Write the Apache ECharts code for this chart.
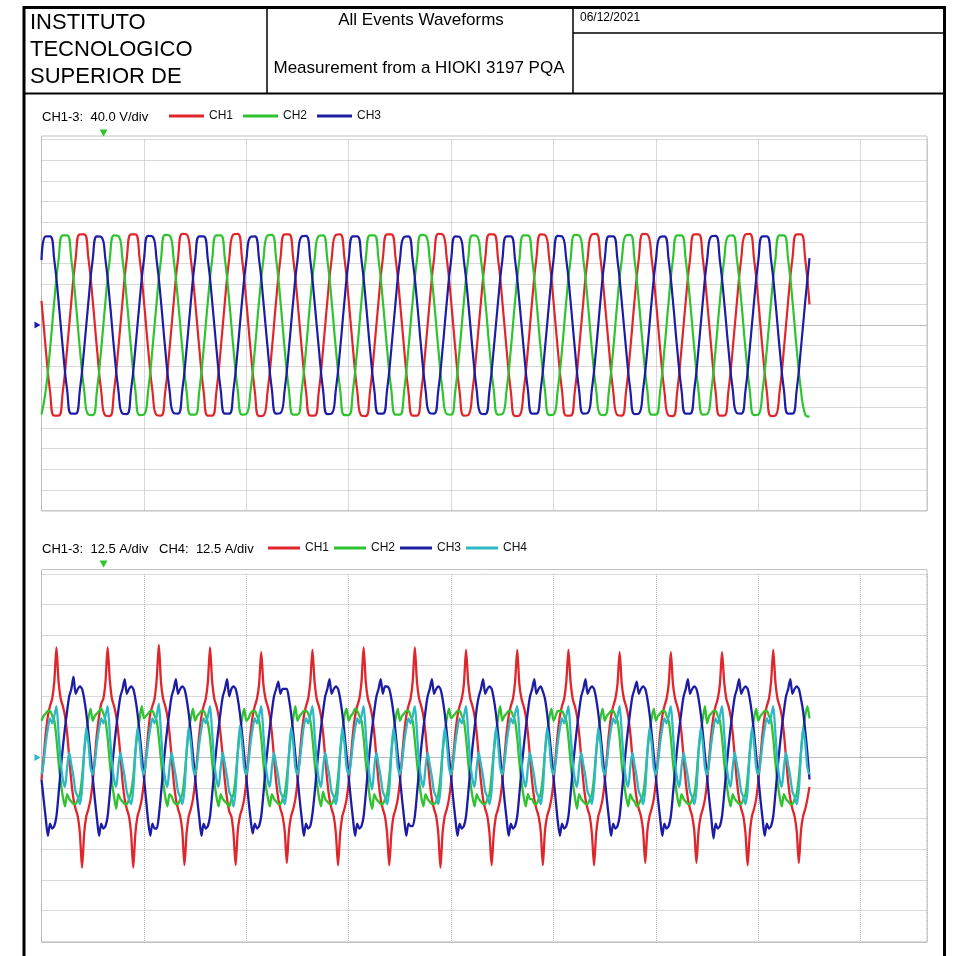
<!DOCTYPE html>
<html>
<head>
<meta charset="utf-8">
<title>All Events Waveforms</title>
<script src="https://cdn.jsdelivr.net/npm/echarts/dist/echarts.min.js"></script>
<style>
  html, body { margin: 0; padding: 0; background: #ffffff; }
  #chart { width: 953px; height: 956px; }
</style>
</head>
<body>
<div id="chart"></div>
<script>
// ---- Header texts ----
const institutionLines = ['INSTITUTO', 'TECNOLOGICO', 'SUPERIOR DE'];
const reportTitle = 'All Events Waveforms';
const reportSubtitle = 'Measurement from a HIOKI 3197 PQA';
const reportDate = '06/12/2021';

// ---- Scales ----
const voltageRangeLabel = 'CH1-3:  40.0 V/div';
const currentRangeLabel = 'CH1-3:  12.5 A/div   CH4:  12.5 A/div';
const voltageChannels = ['CH1', 'CH2', 'CH3'];
const currentChannels = ['CH1', 'CH2', 'CH3', 'CH4'];
const VOLT_PER_DIV = 40;      // V
const VOLT_DIVS = 9;          // divisions each side of zero
const AMP_PER_DIV = 12.5;     // A
const AMP_DIVS = 6;
const TIME_PER_DIV = 100 / 3; // ms (two 60 Hz cycles)
const TIME_SPAN = 288.25;     // ms shown across the screen
const TRIGGER_MS = 20.2;      // trigger marker position

// Sampling intervals of the recorded traces (250 ms record)
const V_STEP_MS = 250 / 180;  // 12 samples per cycle
const I_STEP_MS = 250 / 360;  // 24 samples per cycle

// ---- Voltage traces (V) ----
const vCh1 = [
  47, -47, -129, -176, -176, -129, -47, 47, 129, 176, 176, 129,
  48, -46, -129, -176, -177, -129, -47, 47, 130, 176, 176, 129,
  47, -47, -128, -175, -176, -130, -48, 46, 129, 177, 176, 128,
  47, -47, -129, -176, -176, -129, -47, 47, 129, 176, 177, 129,
  46, -48, -129, -177, -176, -128, -47, 48, 129, 176, 176, 129,
  47, -47, -129, -176, -176, -129, -47, 47, 128, 175, 176, 130,
  48, -46, -128, -176, -177, -129, -46, 47, 129, 176, 176, 129,
  47, -47, -129, -176, -176, -130, -47, 47, 129, 177, 176, 128,
  47, -48, -130, -176, -175, -129, -47, 46, 129, 176, 176, 129,
  47, -47, -129, -177, -176, -129, -48, 47, 130, 176, 175, 129,
  46, -47, -128, -176, -176, -129, -47, 47, 129, 176, 177, 130,
  47, -46, -129, -175, -176, -130, -47, 48, 129, 177, 176, 129,
  48, -47, -129, -176, -177, -129, -46, 47, 128, 176, 176, 129,
  47, -47, -130, -176, -176, -128, -47, 46, 129, 176, 177, 129,
  47, -48, -129, -177, -176, -129, -47, 47, 129, 176, 176, 128,
  40
];
const vCh2 = [
  -174, -127, -47, 47, 127, 174, 174, 127, 47, -47, -127, -174,
  -175, -127, -46, 47, 128, 174, 173, 127, 48, -47, -127, -175,
  -174, -128, -47, 46, 127, 175, 174, 126, 47, -46, -128, -174,
  -174, -127, -47, 47, 127, 174, 174, 127, 47, -47, -127, -174,
  -173, -127, -48, 47, 126, 174, 175, 128, 47, -48, -127, -174,
  -174, -126, -47, 48, 127, 173, 174, 127, 46, -47, -126, -175,
  -175, -127, -47, 47, 128, 174, 174, 127, 47, -47, -127, -174,
  -174, -128, -46, 47, 127, 175, 174, 126, 47, -46, -128, -173,
  -174, -127, -47, 46, 127, 174, 173, 127, 48, -47, -127, -174,
  -173, -127, -47, 47, 126, 174, 174, 128, 47, -48, -127, -175,
  -174, -126, -48, 47, 127, 175, 174, 127, 47, -47, -126, -174,
  -175, -127, -47, 48, 127, 174, 175, 127, 46, -47, -127, -174,
  -174, -128, -47, 47, 128, 174, 174, 126, 47, -46, -128, -174,
  -173, -127, -46, 47, 127, 173, 174, 127, 47, -47, -127, -175,
  -174, -127, -47, 46, 127, 174, 174, 127, 48, -47, -127, -174,
  -178
];
const vCh3 = [
  126, 172, 172, 126, 46, -46, -126, -172, -172, -126, -46, 46,
  127, 172, 171, 126, 47, -46, -125, -172, -173, -126, -46, 46,
  126, 173, 172, 125, 46, -47, -126, -171, -172, -127, -47, 45,
  126, 172, 172, 126, 46, -46, -126, -172, -172, -126, -46, 46,
  125, 171, 172, 127, 46, -45, -126, -172, -171, -126, -45, 47,
  126, 172, 173, 126, 45, -46, -127, -173, -172, -125, -46, 46,
  127, 172, 172, 126, 46, -47, -126, -172, -172, -126, -46, 46,
  126, 171, 172, 126, 47, -46, -125, -171, -172, -127, -47, 46,
  126, 172, 171, 125, 46, -46, -126, -172, -173, -126, -46, 45,
  125, 172, 172, 126, 46, -45, -126, -172, -172, -126, -46, 46,
  126, 173, 172, 127, 46, -46, -127, -172, -171, -125, -46, 47,
  127, 172, 172, 126, 45, -46, -126, -173, -172, -126, -47, 46,
  126, 171, 172, 126, 46, -47, -126, -172, -172, -126, -46, 46,
  126, 172, 173, 125, 46, -46, -125, -171, -172, -127, -46, 45,
  125, 172, 172, 126, 47, -46, -126, -172, -172, -126, -45, 46,
  130
];

// ---- Current traces (A) ----
const iCh1 = [
  -9, 0, 10, 17, 21, 24, 31, 45, 31, 24, 21, 17, 10, 0, -10, -17, -21, -24, -31, -45, -31, -24, -21, -17,
  -10, 0, 10, 17, 22, 24, 31, 45, 32, 24, 21, 17, 10, 1, -10, -17, -21, -24, -31, -45, -31, -24, -21, -17,
  -10, 0, 10, 18, 21, 24, 32, 46, 31, 24, 21, 17, 10, 0, -10, -17, -21, -24, -30, -44, -31, -24, -21, -17,
  -10, 0, 10, 17, 21, 24, 31, 45, 31, 24, 21, 17, 9, 0, -10, -17, -22, -24, -31, -44, -30, -24, -21, -17,
  -10, 0, 10, 17, 21, 24, 30, 43, 30, 24, 21, 17, 10, 0, -10, -17, -21, -24, -30, -43, -30, -24, -21, -17,
  -10, 0, 10, 17, 21, 24, 31, 44, 31, 24, 21, 17, 10, 0, -10, -17, -21, -24, -31, -44, -31, -24, -21, -17,
  -10, 0, 10, 17, 21, 24, 31, 45, 31, 24, 21, 17, 10, 0, -10, -17, -21, -24, -31, -44, -31, -24, -21, -17,
  -10, 0, 10, 17, 21, 24, 31, 45, 31, 24, 21, 17, 10, 0, -10, -17, -21, -24, -31, -45, -31, -24, -21, -17,
  -10, 0, 10, 17, 21, 24, 30, 44, 31, 24, 21, 17, 10, 0, -10, -17, -21, -24, -31, -44, -31, -24, -21, -17,
  -10, 0, 10, 17, 21, 24, 31, 44, 30, 24, 21, 17, 10, 0, -10, -17, -21, -24, -30, -44, -30, -24, -21, -17,
  -10, 0, 10, 17, 21, 24, 31, 44, 31, 24, 21, 17, 10, 0, -10, -17, -21, -24, -31, -44, -31, -24, -21, -17,
  -10, 0, 10, 17, 21, 24, 30, 43, 30, 24, 21, 17, 10, 0, -10, -17, -21, -24, -30, -43, -30, -24, -21, -17,
  -10, 0, 10, 17, 21, 24, 30, 43, 30, 24, 21, 17, 10, 0, -10, -17, -21, -24, -30, -43, -30, -24, -21, -17,
  -10, 0, 10, 17, 21, 24, 30, 43, 31, 24, 21, 17, 10, 0, -10, -17, -21, -24, -31, -44, -31, -24, -21, -17,
  -10, 0, 10, 17, 21, 24, 31, 44, 31, 24, 21, 17, 10, 0, -10, -17, -21, -24, -30, -43, -30, -24, -21, -17,
  -12
];
const iCh2 = [
  15, 17, 18, 19, 19, 17, 15, 8, -2, -10, -16, -20, -15, -17, -18, -19, -19, -17, -15, -8, 2, 10, 16, 20,
  15, 17, 18, 19, 20, 18, 15, 8, -2, -10, -16, -21, -15, -17, -18, -19, -19, -17, -14, -8, 2, 10, 16, 21,
  16, 17, 18, 19, 19, 17, 15, 8, -1, -10, -16, -20, -15, -16, -18, -19, -19, -17, -15, -8, 2, 11, 16, 20,
  15, 17, 18, 19, 19, 17, 14, 8, -2, -10, -16, -20, -15, -17, -18, -19, -20, -17, -15, -8, 2, 10, 16, 20,
  15, 16, 18, 19, 19, 17, 15, 8, -2, -11, -16, -20, -15, -17, -18, -19, -19, -17, -15, -8, 1, 10, 16, 21,
  15, 17, 18, 19, 19, 18, 15, 8, -2, -10, -16, -20, -14, -17, -18, -19, -19, -17, -15, -8, 2, 10, 17, 20,
  15, 17, 18, 20, 19, 17, 15, 8, -2, -10, -17, -21, -15, -17, -18, -19, -19, -17, -15, -8, 2, 10, 16, 20,
  15, 17, 18, 19, 19, 17, 15, 7, -2, -10, -16, -20, -15, -17, -18, -19, -19, -18, -15, -8, 2, 10, 16, 20,
  16, 17, 18, 19, 19, 17, 15, 8, -2, -10, -16, -20, -15, -17, -18, -19, -19, -17, -15, -7, 2, 10, 16, 21,
  15, 17, 18, 19, 19, 17, 15, 8, -2, -10, -16, -20, -15, -17, -17, -19, -19, -17, -15, -8, 2, 10, 16, 20,
  15, 17, 19, 19, 19, 17, 15, 8, -2, -10, -16, -21, -15, -17, -18, -19, -19, -17, -15, -8, 2, 10, 16, 20,
  15, 17, 18, 19, 19, 17, 15, 8, -3, -10, -16, -20, -15, -17, -18, -20, -19, -17, -15, -8, 2, 10, 16, 20,
  15, 17, 18, 19, 19, 17, 15, 8, -2, -10, -16, -20, -15, -17, -18, -19, -19, -17, -15, -8, 3, 10, 16, 21,
  14, 17, 18, 19, 19, 17, 15, 8, -2, -10, -16, -20, -15, -17, -18, -19, -19, -17, -15, -8, 2, 10, 16, 20,
  15, 17, 18, 19, 19, 17, 15, 8, -2, -10, -16, -20, -15, -17, -18, -19, -19, -17, -15, -8, 2, 11, 17, 21,
  16
];
const iCh3 = [
  -9, -17, -25, -32, -27, -29, -28, -24, -15, -5, 4, 12, 19, 25, 28, 33, 26, 28, 29, 28, 24, 18, 10, 1,
  -8, -17, -25, -32, -27, -29, -28, -24, -15, -5, 4, 12, 19, 25, 28, 32, 26, 28, 29, 28, 24, 18, 10, 1,
  -8, -17, -26, -32, -27, -29, -29, -24, -15, -5, 4, 12, 19, 25, 28, 32, 26, 28, 29, 28, 24, 18, 10, 1,
  -8, -17, -25, -32, -27, -29, -28, -24, -15, -5, 4, 12, 19, 25, 28, 32, 25, 28, 29, 28, 24, 18, 10, 1,
  -8, -17, -25, -31, -27, -29, -28, -24, -15, -5, 4, 12, 19, 25, 28, 31, 26, 28, 28, 28, 24, 18, 10, 1,
  -8, -17, -25, -32, -27, -29, -28, -23, -15, -5, 4, 12, 19, 25, 28, 32, 26, 28, 29, 28, 24, 18, 10, 1,
  -8, -17, -25, -32, -27, -29, -28, -24, -15, -5, 4, 12, 19, 25, 28, 32, 26, 29, 29, 28, 24, 18, 10, 1,
  -8, -17, -25, -32, -27, -28, -28, -24, -15, -5, 4, 12, 19, 25, 28, 32, 26, 28, 29, 28, 24, 18, 10, 1,
  -8, -17, -25, -32, -27, -29, -28, -24, -15, -5, 4, 12, 20, 25, 28, 32, 26, 28, 29, 28, 24, 18, 10, 1,
  -8, -17, -25, -32, -27, -29, -28, -24, -15, -5, 4, 12, 19, 25, 28, 32, 26, 28, 29, 27, 24, 18, 10, 1,
  -8, -17, -26, -32, -27, -29, -28, -24, -15, -5, 4, 12, 19, 25, 28, 32, 26, 28, 29, 28, 24, 18, 10, 1,
  -8, -17, -25, -32, -27, -29, -28, -24, -15, -5, 4, 12, 19, 25, 28, 31, 26, 28, 29, 28, 24, 18, 10, 1,
  -8, -17, -25, -32, -27, -29, -28, -24, -15, -5, 4, 12, 19, 25, 28, 32, 26, 28, 29, 28, 24, 18, 10, 1,
  -8, -17, -25, -33, -27, -29, -28, -24, -15, -5, 4, 12, 19, 25, 28, 32, 26, 28, 29, 28, 24, 18, 10, 1,
  -8, -17, -25, -32, -27, -29, -28, -24, -15, -5, 4, 12, 19, 25, 28, 32, 26, 28, 29, 28, 24, 19, 11, 2,
  -9
];
const iCh4 = [
  -7, -2, 6, 12, 16, 14, 17, 21, 10, -2, -9, -12, -4, 2, -3, -8, -14, -16, -19, -13, 2, 12, 6, -4,
  -7, -2, 6, 12, 16, 14, 17, 21, 10, -2, -9, -12, -4, 2, -3, -8, -14, -17, -19, -13, 2, 12, 6, -4,
  -7, -1, 6, 12, 16, 14, 17, 22, 10, -2, -9, -12, -4, 2, -3, -8, -14, -16, -19, -13, 2, 12, 6, -4,
  -7, -2, 6, 12, 16, 14, 17, 21, 10, -2, -9, -12, -4, 2, -3, -8, -14, -16, -20, -13, 2, 13, 6, -4,
  -7, -2, 6, 12, 16, 14, 17, 21, 10, -2, -9, -12, -4, 2, -3, -8, -14, -16, -19, -13, 2, 12, 6, -4,
  -7, -2, 6, 13, 16, 14, 17, 21, 10, -2, -9, -12, -4, 2, -3, -8, -14, -16, -19, -13, 2, 12, 6, -4,
  -7, -2, 6, 12, 16, 14, 17, 21, 10, -2, -9, -13, -4, 2, -3, -8, -14, -16, -19, -13, 2, 12, 6, -4,
  -7, -2, 6, 12, 16, 14, 17, 21, 10, -2, -9, -12, -4, 2, -3, -8, -14, -16, -19, -13, 2, 12, 6, -4,
  -7, -2, 6, 12, 16, 14, 17, 21, 10, -2, -9, -12, -4, 2, -3, -8, -14, -16, -19, -13, 2, 12, 6, -4,
  -7, -2, 6, 12, 16, 14, 18, 21, 10, -2, -9, -12, -4, 2, -3, -8, -14, -16, -19, -13, 2, 12, 6, -4,
  -7, -2, 6, 12, 16, 14, 17, 21, 10, -2, -9, -12, -4, 2, -3, -8, -14, -16, -19, -12, 2, 12, 6, -4,
  -7, -2, 6, 12, 16, 14, 17, 21, 10, -2, -9, -12, -4, 2, -3, -8, -14, -16, -19, -13, 2, 12, 6, -4,
  -7, -2, 6, 12, 16, 14, 17, 21, 10, -2, -9, -12, -4, 2, -3, -8, -14, -16, -19, -13, 2, 12, 6, -4,
  -7, -2, 6, 12, 16, 14, 17, 21, 10, -2, -9, -12, -4, 2, -3, -8, -14, -16, -19, -13, 2, 12, 6, -4,
  -7, -2, 6, 12, 16, 14, 17, 21, 10, -2, -9, -12, -4, 2, -3, -8, -14, -16, -19, -13, 2, 12, 6, -4,
  -7
];

// ---- Styling ----
const COLORS = { CH1: '#e0262b', CH2: '#2fc42f', CH3: '#1c1ca4', CH4: '#2db8c3' };
const FONT = '"Liberation Sans", Arial, Helvetica, sans-serif';
const GRID_COLOR = '#b4b4b4';
const FRAME_COLOR = '#c2c2c2';

function toPairs(values, step) {
  return values.map((v, i) => [i * step, v]);
}

const chart = echarts.init(document.getElementById('chart'), null, { renderer: 'canvas' });

function timeAxis(gridIndex) {
  return {
    gridIndex, type: 'value', min: 0, max: TIME_SPAN, interval: TIME_PER_DIV,
    axisLine: { show: false }, axisTick: { show: false }, axisLabel: { show: false },
    splitLine: { show: true, lineStyle: { color: GRID_COLOR, width: 1, type: [1, 1] } }
  };
}
function valueAxis(gridIndex, perDiv, divs) {
  return {
    gridIndex, type: 'value', min: -perDiv * divs, max: perDiv * divs, interval: perDiv,
    axisLine: { show: false }, axisTick: { show: false }, axisLabel: { show: false },
    splitLine: { show: true, lineStyle: { color: GRID_COLOR, width: 1, type: [1, 1] } }
  };
}
// Solid zero reference line drawn beneath the traces
function zeroAxis(gridIndex) {
  return {
    gridIndex, type: 'value', min: -1, max: 1, interval: 1, position: 'left',
    axisLine: { show: false }, axisTick: { show: false }, axisLabel: { show: false },
    splitLine: { show: true, lineStyle: { color: ['rgba(0,0,0,0)', '#bdbdbd', 'rgba(0,0,0,0)'], width: 1, type: 'solid' } }
  };
}

function trace(name, values, step, xIdx, yIdx, smooth, width) {
  return {
    name, type: 'line', xAxisIndex: xIdx, yAxisIndex: yIdx,
    data: toPairs(values, step), showSymbol: false, symbol: 'none', smooth,
    lineStyle: { color: COLORS[name], width }, itemStyle: { color: COLORS[name] },
    emphasis: { disabled: true }, silent: true, z: 3
  };
}

function markers(yMax, zeroColor, triggerOffset) {
  return {
    silent: true, label: { show: false }, animation: false,
    data: [
      { coord: [0, 0], symbol: 'triangle', symbolSize: [7, 6], symbolRotate: -90, symbolOffset: [-4, 0], itemStyle: { color: zeroColor } },
      { coord: [TRIGGER_MS, yMax], symbol: 'triangle', symbolSize: [8, 7], symbolRotate: 180, symbolOffset: [0, triggerOffset], itemStyle: { color: COLORS.CH2 } }
    ]
  };
}

const vSeries = [
  trace('CH1', vCh1, V_STEP_MS, 0, 0, 0.5, 2.2),
  trace('CH2', vCh2, V_STEP_MS, 0, 0, 0.5, 2.2),
  trace('CH3', vCh3, V_STEP_MS, 0, 0, 0.5, 2.2)
];
vSeries[2].markPoint = markers(VOLT_PER_DIV * VOLT_DIVS, COLORS.CH3, -6.5);

const iSeries = [
  trace('CH1', iCh1, I_STEP_MS, 1, 2, 0.25, 2.3),
  trace('CH2', iCh2, I_STEP_MS, 1, 2, 0.25, 2.3),
  trace('CH3', iCh3, I_STEP_MS, 1, 2, 0.25, 2.3),
  trace('CH4', iCh4, I_STEP_MS, 1, 2, 0.25, 2.3)
];
iSeries[3].markPoint = markers(AMP_PER_DIV * AMP_DIVS, COLORS.CH4, -10);

const headerText = (text, x, y, size, align) => ({
  type: 'text', silent: true,
  style: { text, x, y, fill: '#000', font: `${size}px ${FONT}`, textAlign: align || 'left', textVerticalAlign: 'middle' }
});

const graphic = [
  // page frame and title block
  { type: 'rect', silent: true, shape: { x: 24, y: 7.5, width: 920.5, height: 960 }, style: { fill: 'none', stroke: '#000', lineWidth: 3 } },
  { type: 'line', silent: true, shape: { x1: 24, y1: 93.5, x2: 944.5, y2: 93.5 }, style: { stroke: '#000', lineWidth: 2 } },
  { type: 'line', silent: true, shape: { x1: 267, y1: 7.5, x2: 267, y2: 93.5 }, style: { stroke: '#000', lineWidth: 1.5 } },
  { type: 'line', silent: true, shape: { x1: 573, y1: 7.5, x2: 573, y2: 93.5 }, style: { stroke: '#000', lineWidth: 1.5 } },
  { type: 'line', silent: true, shape: { x1: 573, y1: 33, x2: 944.5, y2: 33 }, style: { stroke: '#000', lineWidth: 1.5 } },
  headerText(institutionLines[0], 30, 23, 22),
  headerText(institutionLines[1], 30, 50, 22),
  headerText(institutionLines[2], 30, 77, 22),
  headerText(reportTitle, 421, 20, 17, 'center'),
  headerText(reportSubtitle, 419, 68, 17, 'center'),
  headerText(reportDate, 580, 18, 12),
  // scale captions
  headerText(voltageRangeLabel, 42, 117, 13),
  headerText(currentRangeLabel, 42, 549, 13),
  // plot frames
  { type: 'rect', silent: true, shape: { x: 41.5, y: 136, width: 885.5, height: 375 }, style: { fill: 'none', stroke: FRAME_COLOR, lineWidth: 1 } },
  { type: 'rect', silent: true, shape: { x: 41.5, y: 569.5, width: 885.5, height: 373 }, style: { fill: 'none', stroke: FRAME_COLOR, lineWidth: 1 } }
];

const legendBase = {
  icon: 'rect', itemHeight: 3, selectedMode: false,
  orient: 'horizontal', padding: 0,
  textStyle: { fontFamily: FONT, fontSize: 12, color: '#111' }
};

chart.setOption({
  animation: false,
  backgroundColor: '#ffffff',
  textStyle: { fontFamily: FONT },
  grid: [
    { left: 41.5, top: 139.6, width: 885.5, height: 370.8, show: false },
    { left: 41.5, top: 573.9, width: 885.5, height: 367.2, show: false }
  ],
  legend: [
    Object.assign({}, legendBase, { left: 169, top: 110, itemWidth: 35, itemGap: 10, data: voltageChannels }),
    Object.assign({}, legendBase, { left: 268, top: 542, itemWidth: 32, itemGap: 5, data: currentChannels })
  ],
  xAxis: [timeAxis(0), timeAxis(1)],
  yAxis: [
    valueAxis(0, VOLT_PER_DIV, VOLT_DIVS), zeroAxis(0),
    valueAxis(1, AMP_PER_DIV, AMP_DIVS), zeroAxis(1)
  ],
  graphic,
  series: vSeries.concat(iSeries)
});
</script>
</body>
</html>
